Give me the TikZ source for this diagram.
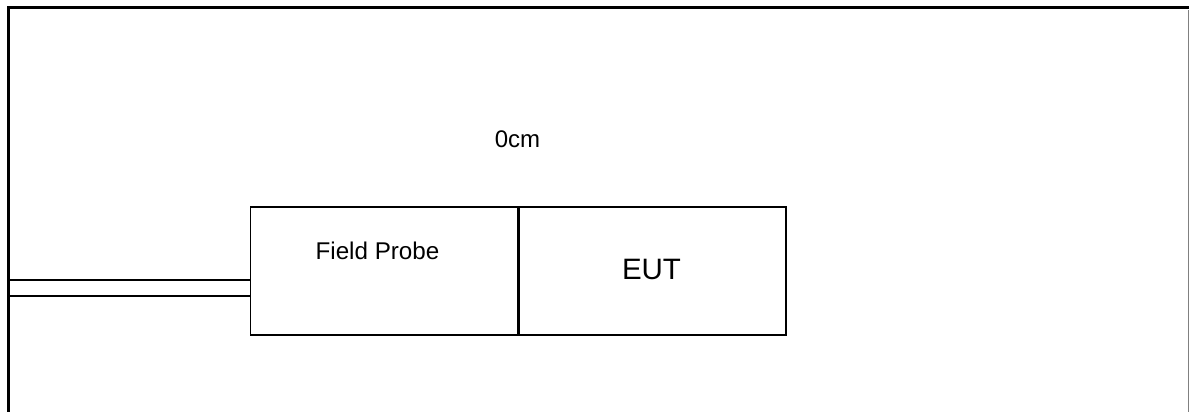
\documentclass[tikz,border=0pt]{standalone}
\usepackage{fontspec}
\setmainfont{Liberation Sans}
\usetikzlibrary{positioning,calc}

\begin{document}
\begin{tikzpicture}
[x=1pt,y=-1pt, node distance=0pt,
box/.style={
draw, line width=1.6pt,
minimum width=267pt,
minimum height=128pt,
inner sep=0pt},
txt/.style={anchor=base, inner sep=0pt}]
\useasboundingbox (0,0) rectangle (1189,412);

% chamber wall
\draw[line width=3pt] (8,412) -- (8,8) -- (1189,8);
\draw[gray, line width=1pt] (1188,10) -- (1188,412);

\node (probe) at (384,271) [box] {};
\node (eut) [box, right=0pt of probe.east, anchor=west] {};

\node (dist) at (517.5,147) [txt, font=\fontsize{24}{29}\selectfont] {0cm};
\node (probetxt) at (377.5,259) [txt, font=\fontsize{24.2}{29}\selectfont] {Field Probe};
\node (euttxt) at (651.5,279) [txt, font=\fontsize{29.5}{35}\selectfont] {EUT};

% cable to probe
\coordinate (c1) at (8,280);
\coordinate (c2) at (8,296);
\draw[line width=1.8pt] (c1) -- (c1 -| probe.west);
\draw[line width=1.8pt] (c2) -- (c2 -| probe.west);

\end{tikzpicture}
\end{document}
